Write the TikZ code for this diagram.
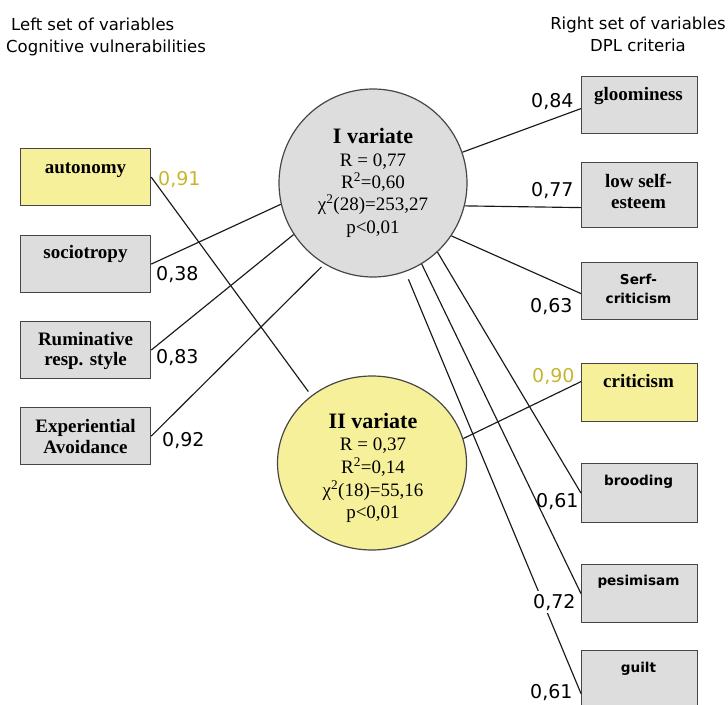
\documentclass[tikz,border=0pt]{standalone}
\usepackage{fontspec}
\setmainfont{Liberation Serif}
\newfontfamily\dvs{DejaVu Sans}
\usetikzlibrary{shapes.geometric}
\definecolor{grayf}{RGB}{221,221,221}
\definecolor{boxc}{RGB}{70,70,70}
\definecolor{yelf}{RGB}{247,240,154}
\definecolor{numyel}{RGB}{198,182,45}
\begin{document}
\begin{tikzpicture}[x=1pt,y=-1pt,
  lbox/.style={draw=boxc, line width=1.2pt, fill=grayf, inner sep=0pt, anchor=north west, minimum width=130pt, minimum height=57pt},
  rbox/.style={lbox, minimum width=116pt},
  ybox/.style={fill=yelf},
  tlab/.style={font=\fontsize{19}{20}\selectfont\bfseries, anchor=base, inner sep=0pt},
  slab/.style={font=\dvs\fontsize{13.6}{16}\selectfont\bfseries, anchor=base, inner sep=0pt},
  num/.style={font=\dvs\fontsize{19}{20}\selectfont, anchor=base west, inner sep=0pt},
  ynum/.style={num, text=numyel},
  head/.style={font=\dvs\fontsize{16.5}{20}\selectfont, inner sep=0pt},
  ctxt/.style={font=\fontsize{19}{20}\selectfont, anchor=base, inner sep=0pt},
  ctitle/.style={font=\fontsize{22}{24}\selectfont\bfseries, anchor=base, inner sep=0pt},
  conn/.style={line width=1.15pt, black!90}
]
\useasboundingbox (0,0) rectangle (728,704);
\clip (0,0) rectangle (728,704);

% headers
\node[head, anchor=base west] (hl1) at (11,30) {Left set of variables};
\node[head, anchor=base west] (hl2) at (6,52) {Cognitive vulnerabilities};
\node[head, anchor=base] (hr1) at (638,29) {Right set of variables};
\node[head, anchor=base] (hr2) at (638,51) {DPL criteria};

% variates
\node[circle, draw=boxc, line width=1.2pt, fill=grayf, minimum size=188pt, inner sep=0pt] (c1) at (373,183) {};
\node[ellipse, draw=boxc, line width=1.2pt, fill=yelf, minimum width=189pt, minimum height=174pt, inner sep=0pt] (c2) at (372,463) {};

% left boxes
\node[lbox, ybox] (aut) at (20,148) {};
\node[lbox] (soc) at (20,235) {};
\node[lbox] (rum) at (20,321) {};
\node[lbox] (exp) at (20,407) {};

% right boxes
\node[rbox] (gloom) at (581,76) {};
\node[rbox, minimum height=65pt] (lse) at (581,162) {};
\node[rbox] (serf) at (581,262) {};
\node[rbox, ybox, minimum height=58pt] (crit) at (581,363) {};
\node[rbox, minimum height=59pt] (brood) at (581,463) {};
\node[rbox, minimum height=58pt] (pes) at (581,564) {};
\node[rbox, minimum height=58pt] (guilt) at (581,650) {};

% box texts
\node[tlab] (autt) at (85.5,173) {autonomy};
\node[tlab] (soct) at (85.5,258) {sociotropy};
\node[tlab] (rumt1) at (85.5,345) {Ruminative};
\node[tlab] (rumt2) at (85.5,365) {resp. style};
\node[tlab] (expt1) at (85.5,432) {Experiential};
\node[tlab] (expt2) at (85.5,453) {Avoidance};

\node[tlab] (gloomt) at (638.5,100) {gloominess};
\node[tlab] (lset1) at (638.5,187) {low self-};
\node[tlab] (lset2) at (638.5,208) {esteem};
\node[slab] (serft1) at (638.5,284) {Serf-};
\node[slab] (serft2) at (638.5,303) {criticism};
\node[tlab] (critt) at (638.5,387) {criticism};
\node[slab] (broodt) at (638.5,485) {brooding};
\node[slab] (pest) at (638.5,585) {pesimisam};
\node[slab] (guiltt) at (638.5,672) {guilt};

% variate texts
\node[ctitle] (c1t) at (373,143) {I variate};
\node[ctxt] (c1a) at (373,166) {R = 0,77};
\node[ctxt] (c1b) at (373,188) {R\textsuperscript{2}=0,60};
\node[ctxt] (c1c) at (373,210) {χ\textsuperscript{2}(28)=253,27};
\node[ctxt] (c1d) at (373,233) {p<0,01};

\node[ctitle] (c2t) at (373,428) {II variate};
\node[ctxt] (c2a) at (373,450) {R = 0,37};
\node[ctxt] (c2b) at (373,473) {R\textsuperscript{2}=0,14};
\node[ctxt] (c2c) at (373,496) {χ\textsuperscript{2}(18)=55,16};
\node[ctxt] (c2d) at (373,518) {p<0,01};

% connectors
\draw[conn, shorten >=5pt] (aut.east) -- (c2.132);
\draw[conn] (soc.east) -- (c1.193);
\draw[conn] (rum.east) -- (c1.213);
\draw[conn, shorten >=4pt] (exp.east) -- (c1.239);

\draw[conn] (c1.19) -- ([yshift=-3.5pt]gloom.west);
\draw[conn] (c1.-14) -- ([yshift=-12.5pt]lse.west);
\draw[conn] (c1.-34) -- ([yshift=-2.5pt]serf.west);
\draw[conn] (c2.15) -- ([yshift=11pt]crit.west);
\draw[conn] (c1.-47) -- (brood.west);
\draw[conn] (c1.-59) -- (pes.west);
\draw[conn, shorten <=8pt] (c1.-70) -- ([yshift=-14pt]guilt.west);

% loadings
\node[ynum] (n1) at (158,185) {0,91};
\node[num] (n2) at (156,280) {0,38};
\node[num] (n3) at (156,363) {0,83};
\node[num] (n4) at (162,446) {0,92};
\node[num] (n5) at (531,107) {0,84};
\node[num] (n6) at (531,196) {0,77};
\node[num] (n7) at (530,312) {0,63};
\node[ynum] (n8) at (532,382) {0,90};
\node[num] (n9) at (536,507) {0,61};
\node[num, fill=white, inner xsep=2pt, inner ysep=3pt] (n10) at (531,608) {0,72};
\node[num] (n11) at (530,698) {0,61};
\end{tikzpicture}
\end{document}
